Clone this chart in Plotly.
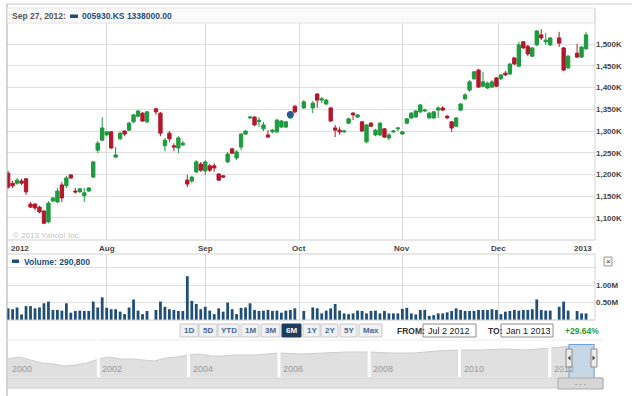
import pandas as pd
import plotly.graph_objects as go

# ---------------- data ----------------
holidays = ["2012-08-15", "2012-10-01", "2012-10-03", "2012-12-19", "2012-12-25"]
dates = [d for d in pd.bdate_range("2012-07-02", "2012-12-28")
         if d.strftime("%Y-%m-%d") not in holidays]

# prices in thousands of KRW
opens = [1203,1180,1180,1185,1190,1132,1132,1125,1116,1091,1139,1137,1176,1174,1199,1162,1160,1151,1162,1194,1256,1279,
         1291,1298,1240,1282,1300,1302,1321,1334,1341,1321,1351,1341,1266,1295,1266,1261,1268,1187,1185,1206,1224,1208,
         1220,1220,1201,1197,1229,1259,1238,1263,1293,1330,1332,1321,1305,1291,1298,1298,1309,1309,1330,1357,
         1353,1353,1385,1371,1362,1353,1307,1302,1298,1318,1341,1332,1321,1275,1318,1291,1291,1305,1284,1298,1305,
         1293,1318,1330,1332,1344,1346,1330,1330,1348,1353,1334,1321,1311,1348,1374,1394,1420,1440,1403,1399,1401,1422,
         1420,1433,1431,1468,1449,1505,1495,1472,1498,1521,1505,1498,1514,1491,1445,1479,1470,1489]
highs = [1208,1185,1192,1190,1192,1137,1134,1128,1118,1139,1148,1169,1183,1197,1201,1169,1169,1169,1171,1231,1277,1332,
         1300,1300,1263,1298,1302,1321,1339,1348,1344,1346,1353,1344,1284,1300,1272,1288,1277,1199,1197,1233,1229,1233,
         1224,1226,1203,1199,1252,1261,1256,1295,1302,1334,1334,1332,1321,1302,1305,1328,1325,1323,1341,1360,
         1371,1369,1387,1378,1374,1355,1314,1309,1302,1330,1344,1339,1323,1316,1321,1305,1321,1307,1295,1302,1309,
         1300,1330,1344,1348,1362,1351,1344,1346,1357,1357,1337,1323,1332,1364,1387,1417,1438,1443,1436,1413,1417,1424,
         1431,1438,1456,1470,1505,1507,1498,1493,1532,1534,1525,1516,1528,1493,1475,1500,1495,1528]
lows = [1167,1169,1176,1176,1153,1123,1118,1111,1086,1088,1137,1134,1137,1169,1190,1156,1158,1137,1160,1192,1249,1277,
        1288,1259,1238,1279,1288,1300,1318,1332,1321,1318,1337,1288,1254,1275,1254,1249,1266,1171,1180,1203,1206,1199,
        1206,1206,1185,1192,1226,1247,1233,1256,1291,1328,1311,1309,1300,1284,1295,1295,1307,1307,1328,1341,
        1351,1341,1353,1364,1360,1321,1286,1291,1295,1316,1325,1330,1298,1272,1309,1288,1288,1284,1279,1295,1300,
        1291,1316,1328,1332,1341,1344,1328,1328,1330,1346,1328,1298,1309,1346,1371,1390,1417,1399,1401,1397,1399,1401,
        1417,1426,1429,1452,1447,1489,1472,1470,1495,1509,1498,1495,1493,1438,1443,1468,1468,1486]
closes = [1171,1174,1187,1180,1160,1125,1123,1114,1088,1134,1146,1162,1146,1192,1192,1160,1167,1158,1169,1229,1272,1307,
          1298,1261,1245,1295,1293,1318,1337,1346,1323,1344,1344,1295,1279,1282,1263,1284,1272,1178,1194,1229,1210,1229,
          1210,1215,1187,1194,1247,1249,1252,1293,1300,1332,1314,1325,1314,1286,1302,1325,1323,1321,1338,1344,
          1367,1364,1371,1374,1371,1323,1302,1298,1300,1328,1337,1337,1300,1314,1311,1302,1318,1286,1291,1300,1307,
          1298,1328,1341,1346,1360,1348,1341,1344,1353,1348,1330,1307,1330,1362,1383,1413,1436,1401,1413,1410,1413,1403,
          1429,1429,1454,1454,1498,1491,1477,1491,1530,1514,1509,1514,1502,1440,1472,1470,1493,1521]
# volume in millions of shares
volumes = [0.335,0.31,0.36,0.16,0.40,0.40,0.335,0.36,0.48,0.53,0.29,0.29,0.27,0.48,0.21,0.26,0.27,0.26,0.26,0.53,0.36,0.65,
           0.35,0.31,0.31,0.24,0.17,0.36,0.59,0.27,0.17,0.26,0.29,0.53,0.38,0.31,0.29,0.26,0.26,1.26,0.55,0.46,0.31,0.38,
           0.27,0.17,0.335,0.24,0.50,0.31,0.17,0.35,0.36,0.48,0.29,0.26,0.27,0.29,0.26,0.27,0.21,0.27,0.2908,0.335,
           0.26,0.36,0.335,0.19,0.27,0.335,0.46,0.27,0.19,0.17,0.19,0.27,0.26,0.19,0.26,0.27,0.19,0.26,0.19,0.19,0.19,
           0.32,0.35,0.19,0.16,0.29,0.29,0.12,0.14,0.19,0.19,0.22,0.26,0.335,0.29,0.26,0.26,0.26,0.29,0.29,0.29,0.31,0.29,
           0.17,0.24,0.26,0.29,0.27,0.29,0.29,0.31,0.59,0.29,0.27,0.27,0.38,0.53,0.27,0.26,0.19,0.19]

price_ticks = [1100, 1150, 1200, 1250, 1300, 1350, 1400, 1450, 1500]
price_labels = ["1,100K", "1,150K", "1,200K", "1,250K", "1,300K", "1,350K", "1,400K", "1,450K", "1,500K"]
vol_ticks = [0.5, 1.0, 1.5]
vol_labels = ["0.50M", "1.00M", ""]
month_grid = ["2012-08-01", "2012-08-31 03:00", "2012-10-01", "2012-11-01", "2012-11-30 10:00"]
month_labels = ["Aug", "Sep", "Oct", "Nov", "Dec"]
x_start, x_end = "2012-06-29 18:00", "2013-01-01 00:00"

hover_date = "2012-09-27"
hover_label = "Sep 27, 2012:"
ticker_label = "005930.KS 1338000.00"
volume_label = "Volume: 290,800"

# navigator (long-term overview, relative heights)
nav_dates = ["2000-01-01","2000-04-01","2000-07-01","2000-10-01","2001-01-01","2001-04-01","2001-07-01","2001-10-01",
             "2002-01-01","2002-04-01","2002-07-01","2002-10-01","2003-01-01","2003-04-01","2003-07-01","2003-10-01",
             "2004-01-01","2004-04-01","2004-07-01","2004-10-01","2005-01-01","2005-07-01","2006-01-01","2006-07-01",
             "2007-01-01","2007-07-01","2008-01-01","2008-07-01","2009-01-01","2009-07-01","2010-01-01","2010-07-01",
             "2011-01-01","2011-07-01","2012-01-01","2012-07-01","2012-10-01","2013-01-01"]
nav_vals = [18,20,17,14,13,11,12,14,18,20,18,18,17,16,19,20,22,23,21,21,22,22,24,23,24,25,25,24,24,26,27,27,28,27,29,31,32,32]
nav_years = ["2000", "2002", "2004", "2006", "2008", "2010", "2012"]

range_buttons = ["1D", "5D", "YTD", "1M", "3M", "6M", "1Y", "2Y", "5Y", "Max"]
selected_button = "6M"
from_text, to_text, change_text = "Jul 2 2012", "Jan 1 2013", "+29.64%"

# ---------------- styles / layout helpers ----------------
W, H = 641, 396
FONT = "Liberation Sans, Arial, sans-serif"
GREEN, RED, BLUE = "#1f9a3f", "#b2182b", "#1f4e79"
GRID = "#e0e0e0"


def px(x):
    return x / W


def py(y):
    return 1 - y / H


fig = go.Figure()

fig.add_trace(go.Candlestick(
    x=dates, open=opens, high=highs, low=lows, close=closes,
    increasing=dict(line=dict(color=GREEN, width=1), fillcolor=GREEN),
    decreasing=dict(line=dict(color=RED, width=1), fillcolor=RED),
    whiskerwidth=0, xaxis="x", yaxis="y", hoverinfo="skip"))

hi = [d.strftime("%Y-%m-%d") for d in dates].index(hover_date)
fig.add_trace(go.Scatter(x=[dates[hi]], y=[closes[hi]], mode="markers",
                         marker=dict(size=7, color="#2a5d8f"), xaxis="x", yaxis="y", hoverinfo="skip"))

fig.add_trace(go.Bar(x=dates, y=volumes, marker=dict(color=BLUE, line=dict(width=0)),
                     width=0.62 * 86400000, xaxis="x2", yaxis="y2", hoverinfo="skip"))

fig.add_trace(go.Scatter(x=nav_dates, y=nav_vals, mode="lines", fill="tozeroy",
                         line=dict(color="#cdcdcd", width=1), fillcolor="#e0e0e0",
                         xaxis="x3", yaxis="y3", hoverinfo="skip"))

breaks = [dict(bounds=["sat", "mon"])]
xdom = [px(7), px(595)]
common_x = dict(type="date", range=[x_start, x_end], rangebreaks=breaks, domain=xdom,
                tickmode="array", tickvals=month_grid, showticklabels=False,
                showgrid=True, gridcolor="#d9d9d9", gridwidth=1, zeroline=False,
                showline=False, ticks="", rangeslider=dict(visible=False), fixedrange=True)

fig.update_layout(
    width=W, height=H, autosize=False,
    margin=dict(l=0, r=0, t=0, b=0),
    paper_bgcolor="white", plot_bgcolor="white",
    showlegend=False, hovermode=False,
    boxgap=0.15, boxgroupgap=0.12,
    font=dict(family=FONT, size=8, color="#444"),
    xaxis=dict(anchor="y", **common_x),
    xaxis2=dict(anchor="y2", **common_x),
    yaxis=dict(domain=[py(240), py(23)], range=[1049.4, 1548.3], side="right", anchor="x",
               tickmode="array", tickvals=price_ticks, ticktext=["<b>%s</b>" % t for t in price_labels],
               tickfont=dict(size=8, color="#444", family=FONT),
               showgrid=True, gridcolor=GRID, zeroline=False, ticks="", fixedrange=True),
    yaxis2=dict(domain=[py(320), py(254)], range=[0, 1.897], side="right", anchor="x2",
                tickmode="array", tickvals=vol_ticks, ticktext=["<b>%s</b>" % t if t else "" for t in vol_labels],
                tickfont=dict(size=8, color="#444", family=FONT),
                showgrid=True, gridcolor=GRID, zeroline=False, ticks="", fixedrange=True),
    xaxis3=dict(anchor="y3", domain=[px(8), px(595)], type="date", range=["2000-01-01", "2013-01-01"],
                showticklabels=False, showgrid=False, zeroline=False, ticks="", fixedrange=True),
    yaxis3=dict(anchor="x3", domain=[py(377), py(340)], range=[0, 37], visible=False, fixedrange=True),
)

shapes = []
ann = []


def rect(x0, y0, x1, y1, fill, line="rgba(0,0,0,0)", lw=1, layer="above"):
    shapes.append(dict(type="rect", xref="paper", yref="paper", x0=px(x0), x1=px(x1), y0=py(y1), y1=py(y0),
                       fillcolor=fill, line=dict(color=line, width=lw), layer=layer))


def hline(x0, x1, y, color, lw=1):
    shapes.append(dict(type="line", xref="paper", yref="paper", x0=px(x0), x1=px(x1), y0=py(y), y1=py(y),
                       line=dict(color=color, width=lw)))


def vline(x, y0, y1, color, lw=1):
    shapes.append(dict(type="line", xref="paper", yref="paper", x0=px(x), x1=px(x), y0=py(y0), y1=py(y1),
                       line=dict(color=color, width=lw)))


def text(x, y, s, size=8, color="#444", anchor="left", bold=False):
    ann.append(dict(xref="paper", yref="paper", x=px(x), y=py(y), text="<b>%s</b>" % s if bold else s,
                    showarrow=False, xanchor=anchor, yanchor="middle",
                    font=dict(size=size, color=color, family=FONT)))


# frame
hline(7, 632, 4, "#cccccc")
vline(7, 4, 396, "#a8a8a8")
# header strip
rect(7.5, 8, 595, 23, "#fafafa", "#e4e4e4")
text(10, 16, hover_label, 8.5, "#555", bold=True)
rect(70, 14.5, 78, 18, BLUE)
text(80, 16, ticker_label, 8.5, BLUE, bold=True)
# plot borders
vline(595, 8, 240, "#d4d4d4")
hline(7, 595, 240, "#d0d0d0")
hline(7, 595, 254, "#cfcfcf")
vline(595, 254, 320, "#d4d4d4")
hline(7, 595, 320, "#c8c8c8")

text(11, 236, "© 2013 Yahoo! Inc.", 8, "#c4c4c4")

# x tick labels
ann.append(dict(xref="x", yref="paper", x=x_start, y=py(248), text="<b>2012</b>", showarrow=False,
                xanchor="left", yanchor="middle", xshift=2, font=dict(size=8, color="#444", family=FONT)))
for v, lab in zip(month_grid, month_labels):
    ann.append(dict(xref="x", yref="paper", x=v, y=py(248), text="<b>%s</b>" % lab, showarrow=False,
                    xanchor="center", yanchor="middle", font=dict(size=8, color="#444", family=FONT)))
ann.append(dict(xref="x", yref="paper", x=x_end, y=py(248), text="<b>2013</b>", showarrow=False,
                xanchor="right", yanchor="middle", xshift=-1, font=dict(size=8, color="#444", family=FONT)))

# volume header
rect(12, 259.5, 19, 263, BLUE)
text(22, 261.5, volume_label, 8.5, BLUE, bold=True)
# close box
rect(604, 257, 612, 266, "#f4f4f4", "#9a9a9a")
text(608, 261.3, "×", 8, "#333", anchor="center")

# range buttons
btn_x = [(180, 198), (199, 217), (218, 239), (241, 259), (261, 280), (282, 301), (303, 320), (321, 338), (340, 357), (359, 382)]
for lab, (a, b) in zip(range_buttons, btn_x):
    sel = lab == selected_button
    rect(a, 324, b, 337, "#1e3c5e" if sel else "#f1f1f1", "#1e3c5e" if sel else "#c9c9c9")
    text((a + b) / 2, 330.8, lab, 8, "white" if sel else "#44699a", anchor="center", bold=True)

text(395, 330.5, "FROM:", 8.5, "#333", bold=True)
rect(423, 324, 476, 337, "white", "#8f8f8f")
text(426, 330.8, from_text, 9, "#222")
text(486, 330.5, "TO:", 8.5, "#333", bold=True)
rect(501, 324, 553, 337, "white", "#8f8f8f")
text(504, 330.8, to_text, 9, "#222")
text(563, 330.5, change_text, 8.5, "#2f9a2f", bold=True)

# navigator
hline(7, 603, 340, "#ececec")
for yr in nav_years[1:]:
    shapes.append(dict(type="line", xref="x3", yref="paper", x0=yr + "-01-01", x1=yr + "-01-01",
                       y0=py(378), y1=py(340), line=dict(color="white", width=3)))
for yr in nav_years:
    ann.append(dict(xref="x3", yref="paper", x=yr + "-01-01", y=py(369), text=yr, showarrow=False,
                    xanchor="left", yanchor="middle", xshift=2, font=dict(size=9, color="#9a9a9a", family=FONT)))
# selection window
rect(569, 344, 594, 378, "rgba(170,205,235,0.45)")
vline(569, 344, 378, "#6fa3d6")
vline(594, 344, 378, "#6fa3d6")
hline(569, 594, 344.5, "#6fa3d6")
rect(566, 349, 572, 367, "#ececec", "#8a8a8a")
rect(591, 349, 597, 367, "#ececec", "#8a8a8a")
shapes.append(dict(type="path", xref="paper", yref="paper",
                   path="M %f,%f L %f,%f L %f,%f Z" % (px(570.5), py(355.5), px(570.5), py(360.5), px(567.8), py(358)),
                   fillcolor="#444", line=dict(width=0)))
shapes.append(dict(type="path", xref="paper", yref="paper",
                   path="M %f,%f L %f,%f L %f,%f Z" % (px(592.5), py(355.5), px(592.5), py(360.5), px(595.2), py(358)),
                   fillcolor="#444", line=dict(width=0)))
# scrollbar
rect(7.5, 378, 603, 388, "#e2e2e2", "#cfcfcf")
rect(558, 378, 603, 389, "#d6d6d6", "#a9a9a9")
text(580.5, 383.5, "- - -", 7, "#888", anchor="center")

fig.update_layout(shapes=shapes, annotations=ann)
fig.write_html("out.html", config=dict(displayModeBar=False, staticPlot=True),
               post_script="document.body.style.margin='0';document.body.style.overflow='hidden';")
